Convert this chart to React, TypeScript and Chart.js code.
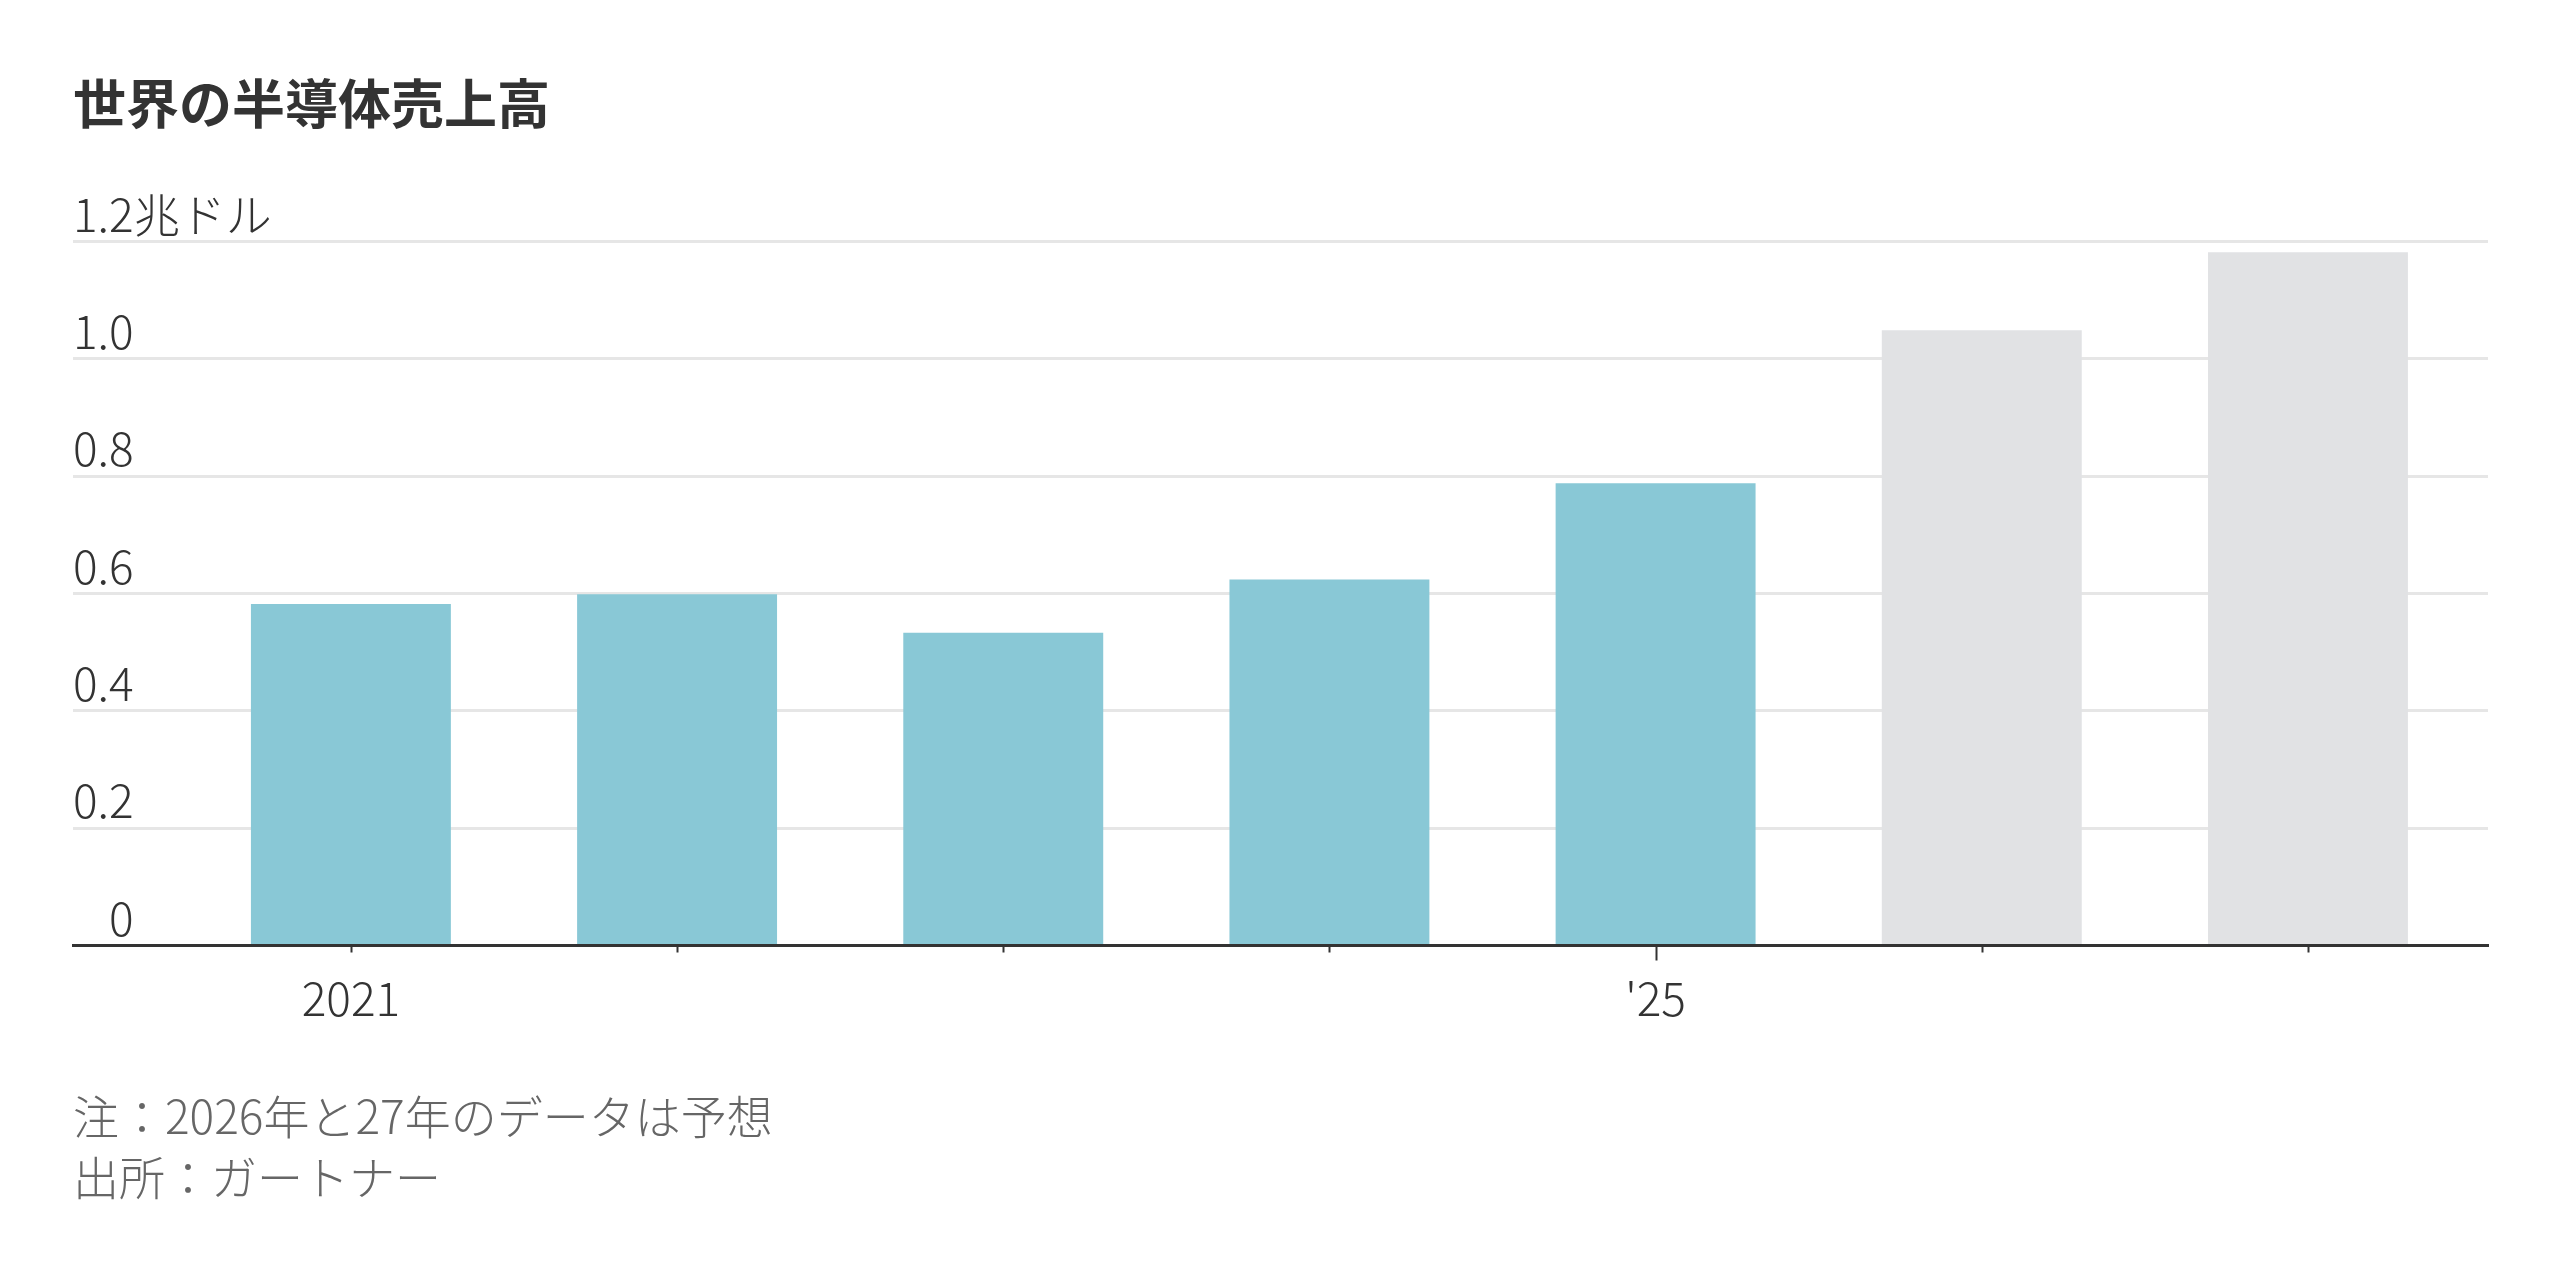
import React, { useEffect, useRef } from 'react';
import { Chart, registerables } from 'chart.js';

Chart.register(...registerables);

// ---- data ----
const chartTitle = '世界の半導体売上高';
const years = ['2021', '2022', '2023', '2024', '2025', '2026', '2027'];
const xTickLabels = ['2021', '', '', '', "'25", '', ''];
const xTickLong = [false, false, false, false, true, false, false];
const sales = [0.582, 0.599, 0.533, 0.624, 0.788, 1.049, 1.182]; // 兆ドル
const isForecast = [false, false, false, false, false, true, true];
const yTicks = [0, 0.2, 0.4, 0.6, 0.8, 1.0, 1.2];
const yUnit = '兆ドル';
const notes = ['注：2026年と27年のデータは予想', '出所：ガートナー'];

const FAMILY = "'Noto Sans CJK JP', 'Noto Sans', sans-serif";
const ACTUAL_COLOR = '#89c8d6';
const FORECAST_COLOR = '#e1e2e4';
const LABEL_SIZE = 46;

const yLabelPlugin = {
  id: 'yLabels',
  afterDraw(chart: any) {
    const { ctx, chartArea } = chart;
    const y = chart.scales.y;
    ctx.save();
    ctx.font = `300 ${LABEL_SIZE}px ${FAMILY}`;
    ctx.fillStyle = '#333333';
    ctx.textBaseline = 'alphabetic';
    const xr = chartArea.left + ctx.measureText('1.0').width;
    y.ticks.forEach((t: any, i: number) => {
      const py = y.getPixelForValue(t.value) - 10;
      const txt = t.value === 0 ? '0' : Number(t.value).toFixed(1);
      ctx.textAlign = 'right';
      ctx.fillText(txt, xr, py);
      if (i === y.ticks.length - 1) {
        ctx.textAlign = 'left';
        ctx.fillText(yUnit, xr, py);
      }
    });
    ctx.restore();
  },
};

const xTickPlugin = {
  id: 'xTickMarks',
  afterDraw(chart: any) {
    const { ctx, chartArea } = chart;
    const x = chart.scales.x;
    ctx.save();
    ctx.strokeStyle = '#333333';
    ctx.lineWidth = 2;
    years.forEach((_, i) => {
      const px = Math.round(x.getPixelForValue(i)) + 0.5;
      const len = xTickLong[i] ? 15 : 7;
      ctx.beginPath();
      ctx.moveTo(px, chartArea.bottom);
      ctx.lineTo(px, chartArea.bottom + len);
      ctx.stroke();
    });
    ctx.restore();
  },
};

export default function App() {
  const canvasRef = useRef<HTMLCanvasElement | null>(null);

  useEffect(() => {
    if (!canvasRef.current) return;
    const chart = new Chart(canvasRef.current, {
      type: 'bar',
      data: {
        datasets: [
          {
            label: chartTitle,
            data: years.map((_, i) => ({ x: i, y: sales[i] })),
            backgroundColor: isForecast.map((f) => (f ? FORECAST_COLOR : ACTUAL_COLOR)),
            borderWidth: 0,
            barPercentage: 0.613,
            categoryPercentage: 1,
          },
        ],
      },
      options: {
        animation: false,
        responsive: false,
        maintainAspectRatio: false,
        layout: { padding: { left: 73, right: 72, top: 241.6, bottom: 228.3 } },
        plugins: {
          legend: { display: false },
          tooltip: { enabled: false },
          title: { display: false },
        },
        scales: {
          x: {
            type: 'linear',
            offset: false,
            min: -0.852,
            max: 6.552,
            afterBuildTicks: (s: any) => {
              s.ticks = years.map((_, i) => ({ value: i }));
            },
            grid: { offset: false, drawOnChartArea: false, drawTicks: false },
            border: { display: true, color: '#333333', width: 3 },
            ticks: {
              callback: (_v: any, i: number) => xTickLabels[i] ?? '',
              font: { size: LABEL_SIZE, weight: 300 as any, family: FAMILY },
              color: '#333333',
              padding: 25.5,
              maxRotation: 0,
              autoSkip: false,
            },
          },
          y: {
            min: 0,
            max: 1.2,
            afterBuildTicks: (s: any) => {
              s.ticks = yTicks.map((v) => ({ value: v }));
            },
            grid: {
              color: (c: any) => (c.tick && c.tick.value === 0 ? 'rgba(0,0,0,0)' : '#e6e6e6'),
              lineWidth: 3,
              drawTicks: false,
            },
            border: { display: false },
            ticks: { display: false },
          },
        },
      },
      plugins: [yLabelPlugin, xTickPlugin],
    });
    return () => chart.destroy();
  }, []);

  return (
    <>
      <canvas
        ref={canvasRef}
        width={2560}
        height={1280}
        style={{ position: 'absolute', left: 0, top: 0, width: 2560, height: 1280 }}
      />
      <div
        style={{
          position: 'absolute',
          left: 73,
          top: 75,
          fontFamily: FAMILY,
          fontWeight: 700,
          fontSize: 53,
          lineHeight: '53px',
          color: '#333333',
          whiteSpace: 'nowrap',
        }}
      >
        {chartTitle}
      </div>
      <div
        style={{
          position: 'absolute',
          left: 73,
          top: 1084,
          fontFamily: FAMILY,
          fontWeight: 300,
          fontSize: LABEL_SIZE,
          lineHeight: '61px',
          color: '#666666',
          whiteSpace: 'nowrap',
        }}
      >
        {notes.map((n) => (
          <div key={n}>{n}</div>
        ))}
      </div>
    </>
  );
}
